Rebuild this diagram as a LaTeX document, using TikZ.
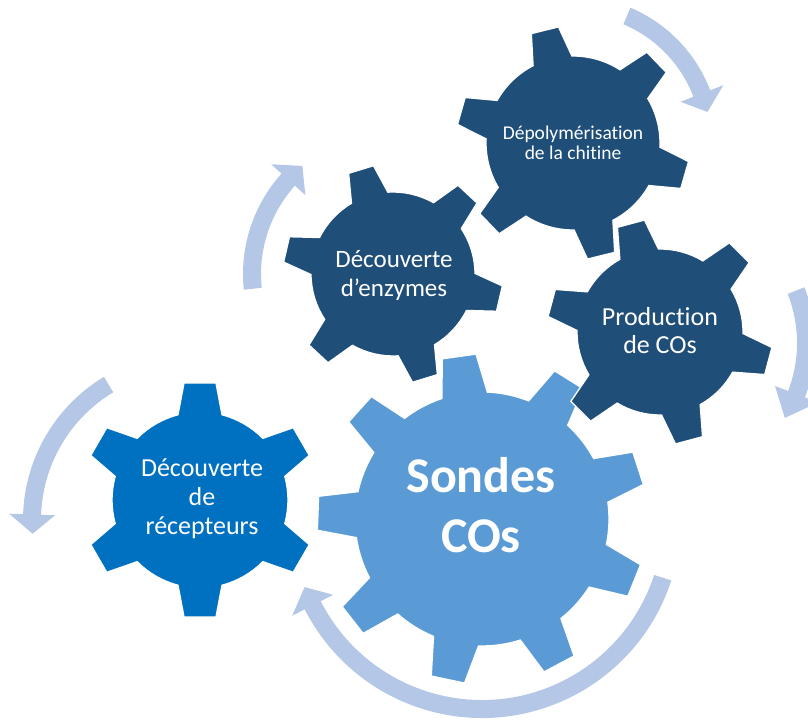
\documentclass[tikz,border=0pt]{standalone}
\usepackage{fontspec}
\setmainfont{Carlito}[Ligatures={NoCommon}]
\definecolor{gdark}{HTML}{1F4E79}
\definecolor{gmid}{HTML}{0070C0}
\definecolor{glight}{HTML}{5B9BD5}
\definecolor{arrowc}{HTML}{B4C7E7}
\tikzset{
  gearedge/.style={draw=white, line width=1.3pt, line join=miter},
  gtxt/.style={text=white, align=center, inner sep=0pt},
  arrowfill/.style={fill=arrowc}
}
% cx cy N R T wb wt phi colour
\newcommand{\drawgear}[9]{%
 \begin{scope}[shift={(#1,#2)}]
  \pgfmathsetmacro{\gearS}{360/#3}
  \pgfmathsetmacro{\gearB}{asin(#6/#4)}
  \pgfmathsetmacro{\gearT}{asin(#7/#5)}
  \pgfmathtruncatemacro{\gearN}{#3-1}
  \filldraw[fill=#9, gearedge] ({#8-\gearB}:#4)
   \foreach \i in {0,...,\gearN}{
     -- ({#8+\i*\gearS-\gearT}:#5) -- ({#8+\i*\gearS+\gearT}:#5) -- ({#8+\i*\gearS+\gearB}:#4)
     arc[start angle={#8+\i*\gearS+\gearB}, end angle={#8+(\i+1)*\gearS-\gearB}, radius=#4pt]
   } -- cycle;
 \end{scope}}
% cx cy r a0 a1(head base) a2(tip)
\newcommand{\bentarrow}[6]{%
 \begin{scope}[shift={(#1,#2)}]
  \fill[arrowfill] (#4:{#3+9}) arc[start angle=#4, end angle=#5, radius={#3+9pt}]
    -- (#5:{#3+23}) -- (#6:#3) -- (#5:{#3-23}) -- (#5:{#3-9})
    arc[start angle=#5, end angle=#4, radius={#3-9pt}] -- cycle;
 \end{scope}}
\begin{document}
\begin{tikzpicture}[x=1pt,y=1pt]
\useasboundingbox (0,0) rectangle (808,726);
\clip (0,0) rectangle (808,726);
% arrows
\bentarrow{573}{583}{138}{67}{21}{13}
\bentarrow{663}{383}{143}{21.5}{-21}{-31.6}
\bentarrow{393}{452}{141}{186}{138}{130}
\bentarrow{190}{206}{158}{121}{178}{185}
\bentarrow{482}{207}{190}{-18}{-153}{-159}
% gears
\drawgear{482}{207}{9}{127}{165}{23}{17}{18}{glight}
\drawgear{200}{226}{6}{88}{118}{22}{16}{30}{gmid}
\drawgear{393}{452}{6}{82}{110}{19}{13}{-13}{gdark}
\drawgear{573}{583}{6}{87}{117}{20}{14}{-16}{gdark}
\drawgear{660}{394}{6}{83}{113}{20}{14}{-15}{gdark}
% labels
\node[gtxt, font=\fontsize{50}{60}\selectfont\bfseries] (sondes) at (481,220.5) {Sondes\\COs};
\node[gtxt, font=\fontsize{25}{29}\selectfont] (enzymes) at (394,451) {Découverte\\d’enzymes};
\node[gtxt, font=\fontsize{19.5}{20}\selectfont] (depol) at (573,583) {Dépolymérisation\\de la chitine};
\node[gtxt, font=\fontsize{26}{28}\selectfont] (prod) at (660,395.5) {Production\\de COs};
\node[gtxt, font=\fontsize{26}{29}\selectfont] (recep) at (202,227) {Découverte\\de\\récepteurs};
\end{tikzpicture}
\end{document}
